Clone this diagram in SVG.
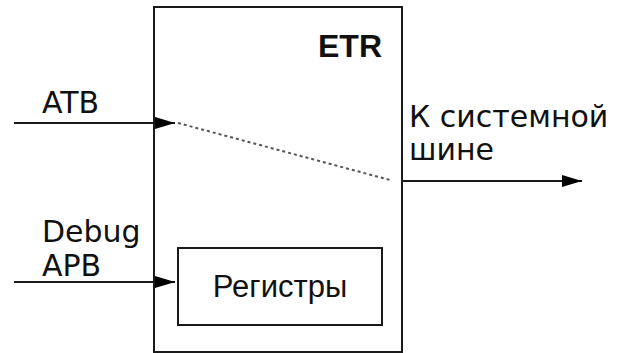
<svg xmlns="http://www.w3.org/2000/svg" width="619" height="353" viewBox="0 0 619 353">
<defs>
<style>
.ln{stroke:#1a1a1a;stroke-width:2;fill:none}
.box{stroke:#1a1a1a;stroke-width:2;fill:#fff}
.lbl{font-family:"DejaVu Sans",sans-serif;font-size:30px;fill:#111}
.reg{font-family:"Liberation Sans",Arial,sans-serif;font-size:31px;fill:#111}
.ttl{font-family:"Liberation Sans",Arial,sans-serif;font-size:32px;font-weight:bold;fill:#111}
</style>
<marker id="arr" viewBox="0 0 20 12" refX="20" refY="6" markerWidth="20" markerHeight="12" markerUnits="userSpaceOnUse" orient="auto">
<path d="M0,0 L20,6 L0,12 z" fill="#000"/>
</marker>
</defs>
<rect width="619" height="353" fill="#fff"/>
<g id="etr">
<rect class="box" x="154" y="7" width="248" height="345"/>
<text class="ttl" x="382" y="57" text-anchor="end">ETR</text>
</g>
<g id="registers">
<rect class="box" x="178" y="248" width="204" height="77"/>
<text class="reg" x="280" y="297" text-anchor="middle">Регистры</text>
</g>
<g id="connectors">
<line class="ln" x1="14" y1="123" x2="175" y2="123" marker-end="url(#arr)"/>
<line x1="178" y1="123" x2="390" y2="180" stroke="#555" stroke-width="2" stroke-dasharray="3,3"/>
<line class="ln" x1="402" y1="181" x2="582" y2="181" marker-end="url(#arr)"/>
<line class="ln" x1="14" y1="282" x2="175" y2="282" marker-end="url(#arr)"/>
</g>
<g id="labels">
<text class="lbl" x="42" y="113">ATB</text>
<text class="lbl" x="42" y="242">Debug</text>
<text class="lbl" x="42" y="276">APB</text>
<text class="lbl" x="409" y="127">К системной</text>
<text class="lbl" x="409" y="160">шине</text>
</g>
</svg>
